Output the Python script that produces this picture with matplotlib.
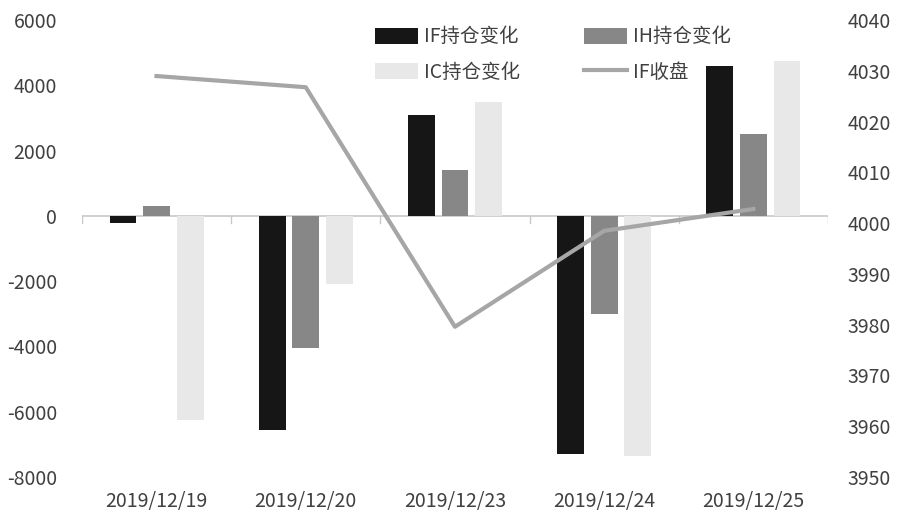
import numpy as np
import matplotlib
matplotlib.use('Agg')
import matplotlib.pyplot as plt

plt.rcParams['font.family'] = ['Noto Sans CJK SC', 'DejaVu Sans']
plt.rcParams['axes.unicode_minus'] = False

# Data
dates = ['2019/12/19', '2019/12/20', '2019/12/23', '2019/12/24', '2019/12/25']
if_change = [-200, -6550, 3100, -7300, 4600]
ih_change = [300, -4050, 1400, -3000, 2500]
ic_change = [-6250, -2100, 3500, -7350, 4750]
if_close = [4029, 4026.8, 3979.6, 3998.5, 4002.8]

fig = plt.figure(figsize=(9, 5.32), dpi=100)
ax = fig.add_axes([0.091, 0.1034, 0.829, 0.8586])
ax2 = ax.twinx()

x = np.arange(len(dates))
w = 0.18
step = 0.225
b1 = ax.bar(x - step, if_change, w, color='#161616', label='IF持仓变化')
b2 = ax.bar(x, ih_change, w, color='#878787', label='IH持仓变化')
b3 = ax.bar(x + step, ic_change, w, color='#e8e8e8', label='IC持仓变化')
l1, = ax2.plot(x, if_close, color='#a6a6a6', lw=3, label='IF收盘')

ax.set_xlim(-0.5, len(dates) - 0.5)
ax.set_ylim(-8000, 6000)
ax.set_yticks(np.arange(-8000, 6001, 2000))
ax2.set_ylim(3950, 4040)
ax2.set_yticks(np.arange(3950, 4041, 10))

for a in (ax, ax2):
    for s in a.spines.values():
        s.set_visible(False)
    a.tick_params(axis='y', length=0, labelsize=14, colors='#404040')

ax.tick_params(axis='y', pad=18)
ax2.tick_params(axis='y', pad=14)

# zero line with category separators
ax.axhline(0, color='#c8c8c8', lw=1.2, zorder=0)
for b in np.arange(-0.5, len(dates), 1.0):
    ax.plot([b, b], [0, -220], color='#c8c8c8', lw=1, zorder=0)

ax.set_xticks(x)
ax.set_xticklabels(dates)
ax.tick_params(axis='x', length=0, labelsize=14, colors='#404040', pad=10)

# row-major order as in the reference (matplotlib fills columns first)
handles = [b1, b3, b2, l1]
ax2.legend(handles, [h.get_label() for h in handles], ncol=2, frameon=False,
           loc='upper left', bbox_to_anchor=(0.37, 1.025), fontsize=14,
           handlelength=2.2, handleheight=0.9, columnspacing=3.3,
           labelspacing=0.75, handletextpad=0.3, labelcolor='#404040')

fig.savefig('out.png', dpi=100)
